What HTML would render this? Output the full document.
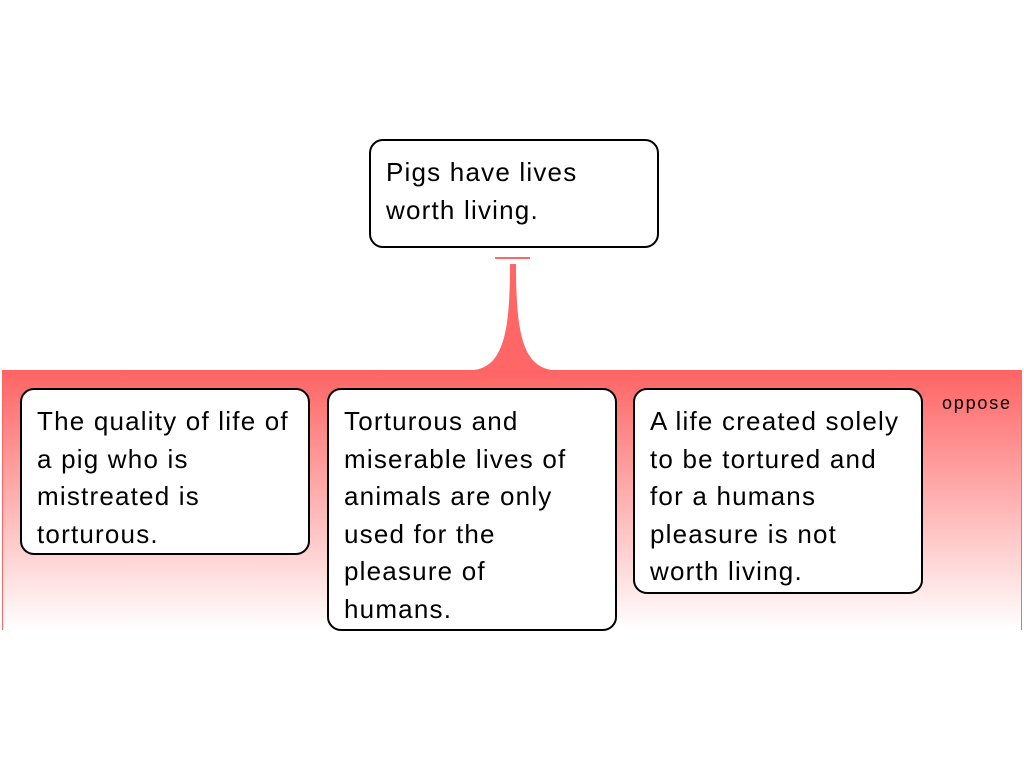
<!DOCTYPE html>
<html><head><style>
body{margin:0;width:1024px;height:768px;background:#fff;position:relative;overflow:hidden;font-family:"Liberation Sans",Arial,sans-serif}
.b{position:absolute;border:2px solid #000;border-radius:14px;background:#fff;box-sizing:border-box;padding:13px 15px;font-size:26px;line-height:37.5px;color:#000;letter-spacing:1.2px;white-space:nowrap}
</style></head><body>
<svg width="1024" height="768" style="position:absolute;left:0;top:0">
<defs><linearGradient id="g" x1="0" y1="0" x2="0" y2="1">
<stop offset="0" stop-color="#ff6363"/><stop offset="1" stop-color="#fff"/></linearGradient></defs>
<rect x="2" y="370" width="1020" height="260" fill="url(#g)"/>
<line x1="2.5" y1="370" x2="2.5" y2="630" stroke="#ff6666" stroke-width="1"/>
<line x1="1021.5" y1="370" x2="1021.5" y2="630" stroke="#ff6666" stroke-width="1"/>
<path d="M510 264 L516 264 C516 330 522 366 552 370 L474 370 C504 366 510 330 510 264 Z" fill="#ff6666"/>
<line x1="495" y1="258" x2="530" y2="258" stroke="#ff6666" stroke-width="2"/>
<text x="942" y="409" font-size="18" letter-spacing="1.8" font-family="Liberation Sans,sans-serif">oppose</text>
</svg>
<div class="b" style="left:369px;top:139px;width:290px;height:109px">Pigs have lives<br>worth living.</div>
<div class="b" style="left:20px;top:388px;width:290px;height:167px">The quality of life of<br>a pig who is<br>mistreated is<br>torturous.</div>
<div class="b" style="left:327px;top:388px;width:290px;height:243px">Torturous and<br>miserable lives of<br>animals are only<br>used for the<br>pleasure of<br>humans.</div>
<div class="b" style="left:633px;top:388px;width:290px;height:206px">A life created solely<br>to be tortured and<br>for a humans<br>pleasure is not<br>worth living.</div>
</body></html>
